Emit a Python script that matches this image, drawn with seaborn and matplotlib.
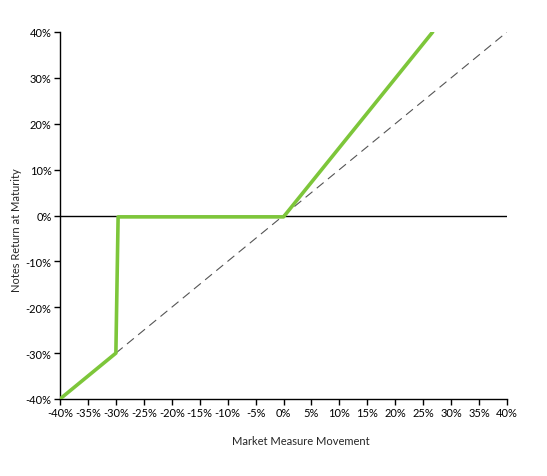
import matplotlib
matplotlib.use("Agg")
import matplotlib.pyplot as plt
import matplotlib.ticker as mticker
import seaborn as sns
import pandas as pd

# Data (percent)
market_x = [-40, -30, -29.6, 0, 26.7]
notes_y = [-40, -30, -0.3, -0.3, 40]
ref_x = [-40, 40]
ref_y = [-40, 40]
x_ticks = list(range(-40, 45, 5))
y_ticks = list(range(-40, 50, 10))

sns.set_theme(style="white")
plt.rcParams['font.family'] = ['Lato', 'DejaVu Sans']

fig = plt.figure(figsize=(5.47, 4.77), dpi=100)
ax = fig.add_axes([60/547, 77/477, 447/547, 367/477])

ax.axhline(0, color="black", lw=1.0, zorder=1)
sns.lineplot(x=ref_x, y=ref_y, ax=ax, color="#555555", lw=0.8,
             linestyle=(0, (8, 5)), sort=False, zorder=2)
sns.lineplot(x=market_x, y=notes_y, ax=ax, color="#7DC63A", lw=2.6,
             sort=False, zorder=3)

ax.set_xlim(-40, 40)
ax.set_ylim(-40, 40)
ax.set_xticks(x_ticks)
ax.set_yticks(y_ticks)
ax.xaxis.set_major_formatter(mticker.FuncFormatter(lambda v, p: f"{int(round(v))}%"))
ax.yaxis.set_major_formatter(mticker.FuncFormatter(lambda v, p: f"{int(round(v))}%"))

for s in ["top", "right"]:
    ax.spines[s].set_visible(False)
for s in ["left", "bottom"]:
    ax.spines[s].set_color("black")
    ax.spines[s].set_linewidth(1.0)

ax.tick_params(axis="both", which="major", direction="out", length=4, width=1,
               color="black", labelsize=8, labelcolor="black", pad=2,
               bottom=True, left=True)

ax.set_xlabel("Market Measure Movement", fontsize=8)
ax.set_ylabel("Notes Return at Maturity", fontsize=8)
ax.xaxis.set_label_coords(0.538, -0.112)
ax.yaxis.set_label_coords(-0.098, 0.463)
ax.xaxis.label.set_va("center")
ax.yaxis.label.set_va("center")

fig.savefig("out.png", dpi=100)
